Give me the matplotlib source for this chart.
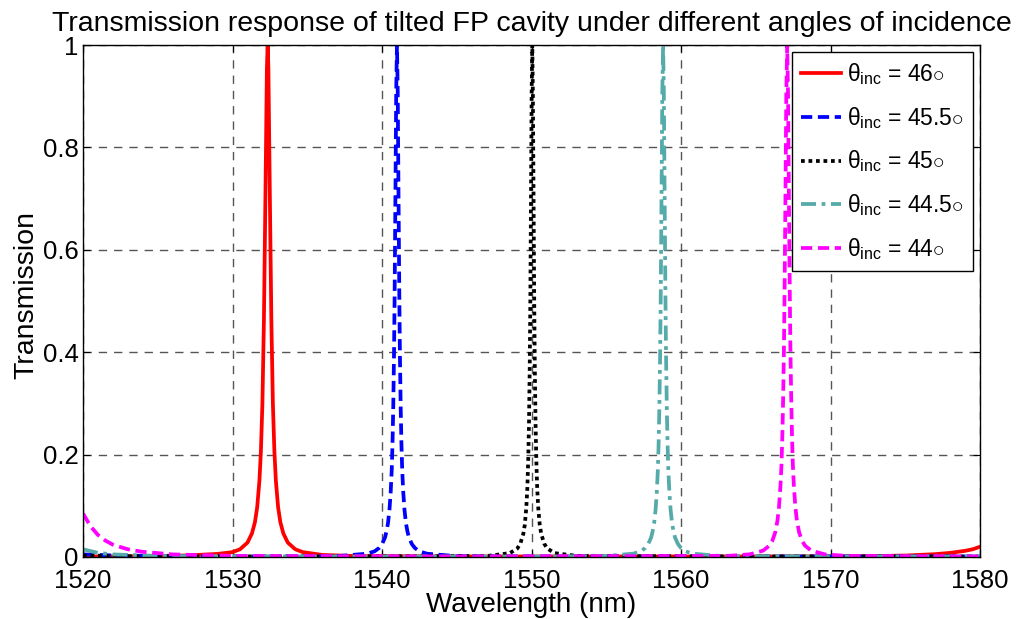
import matplotlib
matplotlib.use("Agg")
import matplotlib.pyplot as plt

plt.rcParams['font.family'] = ['Liberation Sans', 'DejaVu Sans']
plt.rcParams['mathtext.fontset'] = 'custom'
plt.rcParams['mathtext.rm'] = 'Liberation Sans'
plt.rcParams['mathtext.it'] = 'Liberation Sans:italic'

# ---- data ----
red_wl = [1520, 1524, 1527, 1529, 1530.0, 1530.5, 1531.0, 1531.3, 1531.5, 1531.65, 1531.8,
          1531.9, 1532.0, 1532.1, 1532.2, 1532.3, 1532.35,
          1532.4, 1532.5, 1532.6, 1532.7, 1532.8, 1532.9, 1533.05, 1533.2, 1533.4, 1533.7,
          1534.2, 1534.7,
          1536, 1538, 1545, 1555, 1565, 1570, 1573, 1575, 1577, 1578, 1579, 1579.5, 1580]
red_T = [0.001, 0.0015, 0.003, 0.006, 0.0095, 0.015, 0.028, 0.046, 0.068, 0.097, 0.149,
         0.207, 0.30, 0.46, 0.70, 0.955, 1.0,
         0.955, 0.70, 0.46, 0.30, 0.207, 0.149, 0.097, 0.068, 0.046, 0.028,
         0.015, 0.0095,
         0.004, 0.002, 0.001, 0.001, 0.001, 0.0012, 0.0018, 0.0028, 0.0055, 0.008, 0.012, 0.015, 0.02]

blue_wl = [1520, 1522, 1526, 1532, 1537,
           1539.0, 1539.5, 1539.8, 1540.0, 1540.2, 1540.3, 1540.4, 1540.5, 1540.58, 1540.65,
           1540.7, 1540.75, 1540.8, 1540.84, 1540.9, 1540.95, 1541.0,
           1541.05, 1541.1, 1541.16, 1541.2, 1541.25, 1541.3, 1541.35, 1541.42, 1541.5,
           1541.6, 1541.7, 1541.8, 1542.0, 1542.2, 1542.5, 1543.0,
           1545, 1550, 1565, 1580]
blue_T = [0.005, 0.003, 0.0015, 0.001, 0.0016,
          0.0064, 0.011, 0.0175, 0.025, 0.038, 0.05, 0.066, 0.093, 0.127, 0.17,
          0.22, 0.29, 0.39, 0.5, 0.72, 0.91, 1.0,
          0.91, 0.72, 0.5, 0.39, 0.29, 0.22, 0.17, 0.127, 0.093,
          0.066, 0.05, 0.038, 0.025, 0.0175, 0.011, 0.0064,
          0.0016, 0.001, 0.001, 0.001]

black_wl = [1520, 1523, 1535,
            1547.05, 1548.55, 1549.05, 1549.25, 1549.45, 1549.55, 1549.65, 1549.72, 1549.78,
            1549.83, 1549.88, 1549.92, 1549.97, 1550.01, 1550.05,
            1550.09, 1550.13, 1550.18, 1550.22, 1550.27, 1550.32, 1550.38, 1550.45, 1550.55,
            1550.65, 1550.85, 1551.05, 1551.55, 1553.05,
            1565, 1580]
black_T = [0.003, 0.0015, 0.001,
           0.002, 0.0075, 0.0166, 0.026, 0.045, 0.063, 0.096, 0.134, 0.19,
           0.26, 0.37, 0.5, 0.73, 0.91, 1.0,
           0.91, 0.73, 0.5, 0.37, 0.26, 0.19, 0.134, 0.096, 0.063,
           0.045, 0.026, 0.0166, 0.0075, 0.002,
           0.001, 0.001]

teal_wl = [1520, 1521, 1522, 1525, 1535, 1550, 1554.8,
           1556.8, 1557.3, 1557.6, 1557.8, 1558.0, 1558.1, 1558.2, 1558.3, 1558.38, 1558.45,
           1558.5, 1558.55, 1558.6, 1558.64, 1558.7, 1558.75, 1558.8,
           1558.85, 1558.9, 1558.96, 1559.0, 1559.05, 1559.1, 1559.15, 1559.22, 1559.3,
           1559.4, 1559.5, 1559.6, 1559.8, 1560.0, 1560.3, 1560.8,
           1562.8, 1570, 1580]
teal_T = [0.015, 0.008, 0.005, 0.002, 0.001, 0.001, 0.0016,
          0.0064, 0.011, 0.0175, 0.025, 0.038, 0.05, 0.066, 0.093, 0.127, 0.17,
          0.22, 0.29, 0.39, 0.5, 0.72, 0.91, 1.0,
          0.91, 0.72, 0.5, 0.39, 0.29, 0.22, 0.17, 0.127, 0.093,
          0.066, 0.05, 0.038, 0.025, 0.0175, 0.011, 0.0064,
          0.0016, 0.001, 0.001]

mag_wl = [1520, 1520.5, 1521, 1521.5, 1522, 1523, 1524, 1526, 1530, 1545,
          1563.1, 1564.6, 1565.5, 1565.9, 1566.1, 1566.3, 1566.45, 1566.55, 1566.65, 1566.72,
          1566.78, 1566.83, 1566.88, 1566.92, 1566.98, 1567.04, 1567.1,
          1567.16, 1567.22, 1567.28, 1567.32, 1567.37, 1567.42, 1567.48, 1567.55, 1567.65,
          1567.75, 1567.9, 1568.1, 1568.3, 1568.7, 1569.6, 1571.1,
          1580]
mag_T = [0.085, 0.06, 0.043, 0.032, 0.024, 0.015, 0.01, 0.005, 0.002, 0.001,
         0.002, 0.0052, 0.0125, 0.022, 0.031, 0.048, 0.071, 0.097, 0.138, 0.18,
         0.24, 0.31, 0.40, 0.5, 0.69, 0.9, 1.0,
         0.9, 0.69, 0.5, 0.40, 0.31, 0.24, 0.18, 0.138, 0.097,
         0.071, 0.048, 0.031, 0.022, 0.0125, 0.0052, 0.002,
         0.001]

labels = [r'θ$_{\rm inc}$ = 46$\circ$', r'θ$_{\rm inc}$ = 45.5$\circ$',
          r'θ$_{\rm inc}$ = 45$\circ$', r'θ$_{\rm inc}$ = 44.5$\circ$',
          r'θ$_{\rm inc}$ = 44$\circ$']
x_ticks = [1520, 1530, 1540, 1550, 1560, 1570, 1580]
y_ticks = [0, 0.2, 0.4, 0.6, 0.8, 1]
y_ticklabels = ['0', '0.2', '0.4', '0.6', '0.8', '1']

fig = plt.figure(figsize=(10.16, 6.19), dpi=100)
ax = fig.add_axes([0.0817, 0.1002, 0.8829, 0.8271])

lw = 2.7
ax.plot(red_wl, red_T, color='#ff0000', lw=lw, ls='-', label=labels[0])
ax.plot(blue_wl, blue_T, color='#0000ff', lw=lw, ls=(0, (3, 1.5)), label=labels[1])
ax.plot(black_wl, black_T, color='#000000', lw=lw, ls=(0, (1, 1)), label=labels[2])
ax.plot(teal_wl, teal_T, color='#55aaaa', lw=lw, ls=(0, (4, 1.5, 1, 1.5)), label=labels[3])
ax.plot(mag_wl, mag_T, color='#ff00ff', lw=lw, ls=(0, (3, 1.5)), label=labels[4])

ax.set_xlim(1520, 1580)
ax.set_ylim(0, 1)
ax.set_xticks(x_ticks)
ax.set_yticks(y_ticks)
ax.set_yticklabels(y_ticklabels)
ax.tick_params(direction='in', length=5, labelsize=18.5, top=True, right=True)
ax.tick_params(axis='x', pad=9)
ax.tick_params(axis='y', pad=3)
ax.grid(True, color='#555555', ls=(0, (6, 5)), lw=1.0)
for s in ax.spines.values():
    s.set_linewidth(1.0)

ax.set_title('Transmission response of tilted FP cavity under different angles of incidence',
             fontsize=20.5, pad=10)
ax.set_xlabel('Wavelength (nm)', fontsize=20, labelpad=-1)
ax.set_ylabel('Transmission', fontsize=20.5)
ax.yaxis.set_label_coords(-0.049, 0.512)

leg = ax.legend(loc='upper right', fontsize=16.5, handlelength=1.75, handletextpad=0.25,
                borderaxespad=0.3, labelspacing=0.78, borderpad=0.4, fancybox=False,
                framealpha=1, edgecolor='black')
leg.get_frame().set_linewidth(1.0)

fig.savefig('out.png', dpi=100)
